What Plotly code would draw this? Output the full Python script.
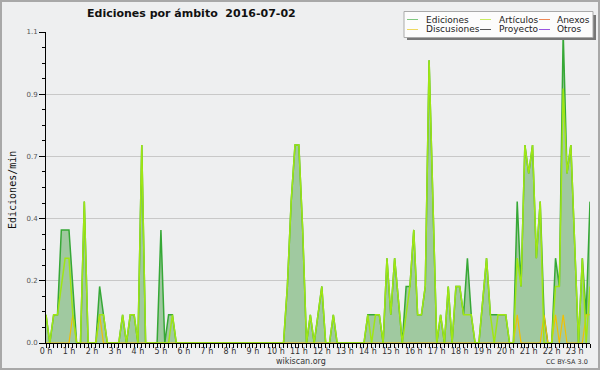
import plotly.graph_objects as go

# 10-minute slots from 00:00 to 23:40
slots = list(range(143))
hours = [s / 6 for s in slots]

ediciones = [
    .1, 0, .1, .1, .4, .4, .4, .2, 0, 0, .5, 0,
    0, 0, .2, .1, 0, 0, 0, 0, .1, 0, .1, .1,
    0, .7, 0, 0, 0, 0, .4, 0, .1, .1, 0, 0,
    0, 0, 0, 0, 0, 0, 0, 0, 0, 0, 0, 0,
    0, 0, 0, 0, 0, 0, 0, 0, 0, 0, 0, 0,
    0, 0, 0, .2, .5, .7, .7, .4, 0, .1, 0, .1,
    .2, 0, 0, .1, 0, 0, 0, 0, 0, 0, 0, 0,
    .1, .1, .1, .1, 0, .3, .1, .3, .15, 0, .2, .2,
    .4, .1, .1, .2, 1.0, .5, 0, .1, 0, .2, 0, .2,
    .2, .1, .3, .1, 0, 0, .15, .3, .1, .1, .1, .1,
    .1, 0, 0, .5, .2, .7, .6, .7, .3, .5, .1, 0,
    0, .3, .2, 1.1, .6, .7, .35, 0, .3, .1, .5,
]
articulos = [
    .1, 0, .1, .1, .2, .3, .3, .1, 0, 0, .5, 0,
    0, 0, .1, .1, 0, 0, 0, 0, .1, 0, .1, .1,
    0, .7, 0, 0, 0, 0, 0, 0, 0, .1, 0, 0,
    0, 0, 0, 0, 0, 0, 0, 0, 0, 0, 0, 0,
    0, 0, 0, 0, 0, 0, 0, 0, 0, 0, 0, 0,
    0, 0, 0, .2, .5, .7, .7, .4, 0, .1, 0, .1,
    .2, 0, 0, .1, 0, 0, 0, 0, 0, 0, 0, 0,
    .1, 0, .1, .1, 0, .3, .1, .3, .15, 0, .1, .2,
    .4, .1, .1, .2, 1.0, .5, 0, .1, 0, .2, 0, .2,
    .2, .1, .1, .1, 0, 0, .15, .3, .1, 0, .1, .1,
    .1, 0, 0, .3, .2, .7, .6, .7, .3, .5, 0, 0,
    0, .2, .2, .9, .6, .7, .35, 0, .3, 0, .2,
]
discusiones_nonzero = {7: .1, 14: .1, 123: .1, 130: .1, 133: .1, 135: .1, 141: .1, 142: .1}
discusiones = [discusiones_nonzero.get(s, 0) for s in slots]

hour_ticks = list(range(24))
hour_labels = [f"{h} h" for h in hour_ticks]
y_ticks = [0, 0.22, 0.44, 0.66, 0.88, 1.1]
y_labels = ["0.0", "0.2", "0.4", "0.7", "0.9", "1.1"]

legend_items = [
    ("Ediciones", "#80c880", 0, 0), ("Artículos", "#c8ec60", 1, 0), ("Anexos", "#ee8855", 2, 0),
    ("Discusiones", "#eed860", 0, 1), ("Proyecto", "#555555", 1, 1), ("Otros", "#9955e0", 2, 1),
]

W, H = 600, 370
L, R, T, B = 46, 10, 32, 27
PW, PH = W - L - R, H - T - B


def px(x):
    return (x - L) / PW


def py(y):
    return (H - B - y) / PH


fig = go.Figure()
fig.add_trace(go.Scatter(x=hours, y=ediciones, mode="lines", name="Ediciones",
                         line=dict(color="#36a836", width=1.5), fill="tozeroy",
                         fillcolor="#a0c9a0"))
fig.add_trace(go.Scatter(x=hours, y=discusiones, mode="lines", name="Discusiones",
                         line=dict(color="#f2c000", width=1.2)))
fig.add_trace(go.Scatter(x=hours, y=articulos, mode="lines", name="Artículos",
                         line=dict(color="#9fe614", width=1.5)))

shapes = [
    dict(type="rect", xref="paper", yref="paper", x0=px(407), x1=px(596), y0=py(15), y1=py(40),
         fillcolor="#777777", line=dict(width=0), layer="above"),
    dict(type="rect", xref="paper", yref="paper", x0=px(404), x1=px(593), y0=py(11.5), y1=py(37.5),
         fillcolor="#fcfcfc", line=dict(color="#aaaaaa", width=1), layer="above"),
    dict(type="rect", xref="paper", yref="paper", x0=px(1), x1=px(599), y0=py(1), y1=py(369),
         fillcolor="rgba(0,0,0,0)", line=dict(color="#a8a8a8", width=2), layer="above"),
]


def note(text, x, y, size, family="DejaVu Sans", color="#222", xanchor="left", **kw):
    return dict(text=text, xref="paper", yref="paper", x=px(x), y=py(y), xanchor=xanchor,
                yanchor="middle", showarrow=False,
                font=dict(family=family, size=size, color=color), **kw)


annotations = [
    note("<b>Ediciones por ámbito\u00a0\u00a02016-07-02</b>", 85, 14, 11, color="#111"),
    note("Ediciones/min", 12, 190, 10, family="DejaVu Sans Mono", color="#111",
         xanchor="center", textangle=-90),
    note("wikiscan.org", 301, 361, 8, color="#333", xanchor="center"),
    note("CC BY-SA 3.0", 590, 362, 6.5, color="#333", xanchor="right"),
]
col_line_x = [407, 480, 539]
col_text_x = [424, 497, 555]
row_y = [19.5, 29.5]
for name, color, c, r in legend_items:
    shapes.append(dict(type="line", xref="paper", yref="paper", x0=px(col_line_x[c]),
                       x1=px(col_line_x[c] + 11), y0=py(row_y[r]), y1=py(row_y[r]),
                       line=dict(color=color, width=1), layer="above"))
    annotations.append(note(name, col_text_x[c], row_y[r], 9))

fig.update_layout(
    width=W, height=H, margin=dict(l=L, r=R, t=T, b=B),
    paper_bgcolor="#eeeff0", plot_bgcolor="#eeeff0", showlegend=False,
    font=dict(family="DejaVu Sans", size=8, color="#333"),
    shapes=shapes, annotations=annotations,
    xaxis=dict(range=[0, 142 / 6], tickmode="array", tickvals=hour_ticks, ticktext=hour_labels,
               ticks="outside", ticklen=4, tickcolor="black", showline=True, linecolor="black",
               linewidth=1, showgrid=False, zeroline=False, tickfont=dict(size=8, color="#333"),
               ticklabelstandoff=-4,
               minor=dict(tickmode="linear", tick0=0, dtick=1 / 6, ticks="outside", ticklen=4,
                          tickcolor="black", showgrid=False)),
    yaxis=dict(range=[0, 1.1], tickmode="array", tickvals=y_ticks, ticktext=y_labels,
               ticks="outside", ticklen=6, tickcolor="black", showline=True, linecolor="black",
               linewidth=1, showgrid=True, gridcolor="#c8c8c8", gridwidth=1, zeroline=False,
               tickfont=dict(size=7, color="#555"),
               minor=dict(tickmode="linear", tick0=0, dtick=0.055, ticks="outside", ticklen=3,
                          tickcolor="black", showgrid=False)),
)

fig.write_html("out.html", config={"displayModeBar": False},
               post_script="document.body.style.margin='0';document.body.style.padding='0';")
